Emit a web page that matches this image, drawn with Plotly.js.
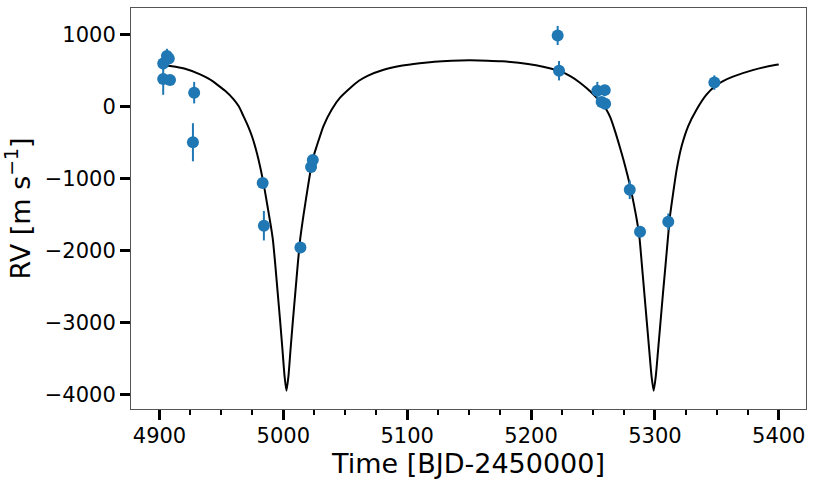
<!DOCTYPE html>
<html>
<head>
<meta charset="utf-8">
<script src="https://cdn.plot.ly/plotly-3.0.1.min.js"></script>
<style>html,body{margin:0;padding:0;background:#fff;}#chart{width:814px;height:485px;}</style>
</head>
<body>
<div id="chart"></div>
<script>
// Observed radial velocities
var obsTime = [4903, 4906, 4907.5, 4903, 4908.5, 4928, 4927, 4983.3, 4984.3, 5013.8, 5022.4, 5023.8,
               5221.5, 5222.6, 5253.5, 5259.5, 5257, 5259.8, 5279.7, 5288, 5310.8, 5348];
var obsRV = [600, 705, 670, 385, 370, 195, -495, -1063, -1655, -1958, -839, -741,
             990, 500, 220, 230, 64, 40, -1155, -1740, -1600, 335];
var obsErr = [90, 100, 60, 220, 60, 150, 265, 60, 205, 50, 50, 50,
              133, 135, 125, 50, 50, 50, 130, 40, 115, 100];

// Model curve
var modelTime = [4900, 4910, 4920, 4932.8, 4940, 4946.3, 4953, 4959.7, 4964, 4967.8, 4971.5, 4974.6,
  4977.5, 4979.9, 4983.9, 4986.7, 4989.9, 4991.5, 4993.5, 4995.5, 4997.5, 4999.3, 5001, 5002.5,
  5004.1, 5005.8, 5007.6, 5009.6, 5011.6, 5013.6, 5016.2, 5019.5, 5023, 5025, 5027, 5032.4, 5039.1,
  5045.8, 5054, 5061, 5068, 5081, 5095, 5110, 5122, 5136, 5150, 5165, 5177, 5190, 5204, 5215, 5224,
  5232, 5239, 5245, 5250, 5255, 5258, 5261, 5264, 5267.8, 5271.9, 5275.9, 5279.9, 5282.6, 5285.3,
  5287.4, 5289.5, 5291.5, 5293.5, 5295.4, 5297.3, 5299, 5300.7, 5302.6, 5304.5, 5306.5, 5308.6,
  5310.4, 5312.2, 5314.8, 5317.6, 5321.6, 5326.9, 5333.7, 5341.8, 5348.5, 5355, 5363, 5379, 5397, 5400];
var modelRV = [578, 562, 530, 449, 385, 310, 220, 105, 5, -131, -270, -408,
  -570, -732, -1056, -1333, -1658, -1843, -2200, -2600, -3000, -3380, -3750, -3950,
  -3750, -3380, -3000, -2600, -2200, -1843, -1519, -1150, -790, -655, -547, -269, -38,
  125, 260, 360, 429, 514, 569, 605, 626, 639, 644, 640, 631, 610, 575, 535, 490,
  420, 340, 255, 175, 85, 25, -45, -150, -340, -575, -820, -1095, -1320, -1565,
  -1797, -2200, -2600, -3000, -3380, -3750, -3950, -3750, -3380, -3000, -2600, -2200,
  -1850, -1519, -1194, -871, -547, -269, -38, 171, 285, 355, 417, 508, 578, 585];

var xTicks = [4900, 5000, 5100, 5200, 5300, 5400];
var yTicks = [1000, 0, -1000, -2000, -3000, -4000];

var FONT = 'DejaVu Sans, Liberation Sans, sans-serif';

var traces = [
  {
    x: modelTime, y: modelRV, type: 'scatter', mode: 'lines',
    line: {color: '#000000', width: 2, shape: 'spline', smoothing: 0.6},
    hoverinfo: 'skip', showlegend: false
  },
  {
    x: obsTime, y: obsRV, type: 'scatter', mode: 'markers',
    marker: {color: '#1f77b4', size: 12},
    error_y: {type: 'data', array: obsErr, visible: true, color: '#1f77b4', thickness: 2, width: 0},
    showlegend: false
  }
];

var layout = {
  width: 814, height: 485,
  margin: {l: 131, r: 8, t: 8, b: 76},
  paper_bgcolor: '#ffffff', plot_bgcolor: '#ffffff',
  font: {family: FONT, color: '#000000', size: 21},
  showlegend: false,
  xaxis: {
    range: [4877, 5422],
    tickvals: xTicks, ticktext: xTicks.map(String),
    ticks: 'outside', ticklen: 10, tickwidth: 3, tickcolor: '#000',
    minor: {dtick: 25, tick0: 4900, ticks: 'outside', ticklen: 5, tickwidth: 2, tickcolor: '#000', showgrid: false},
    showgrid: false, zeroline: false,
    showline: true, linecolor: '#555', linewidth: 1, mirror: true,
    tickfont: {family: FONT, size: 21, color: '#000'},
    ticklabelstandoff: -2,
    title: {text: 'Time [BJD-2450000]', font: {family: FONT, size: 27, color: '#000'}, standoff: 6}
  },
  yaxis: {
    range: [-4204, 1372],
    tickvals: yTicks, ticktext: yTicks.map(function(v){ return v < 0 ? '\u2212' + Math.abs(v) : String(v); }),
    ticks: 'outside', ticklen: 10, tickwidth: 3, tickcolor: '#000',
    showgrid: false, zeroline: false,
    showline: true, linecolor: '#555', linewidth: 1, mirror: true,
    tickfont: {family: FONT, size: 21, color: '#000'},
    title: {text: 'RV [m s<sup>\u22121</sup>]', font: {family: FONT, size: 27, color: '#000'}, standoff: 6}
  }
};

Plotly.newPlot('chart', traces, layout, {displayModeBar: false, staticPlot: true});
</script>
</body>
</html>
